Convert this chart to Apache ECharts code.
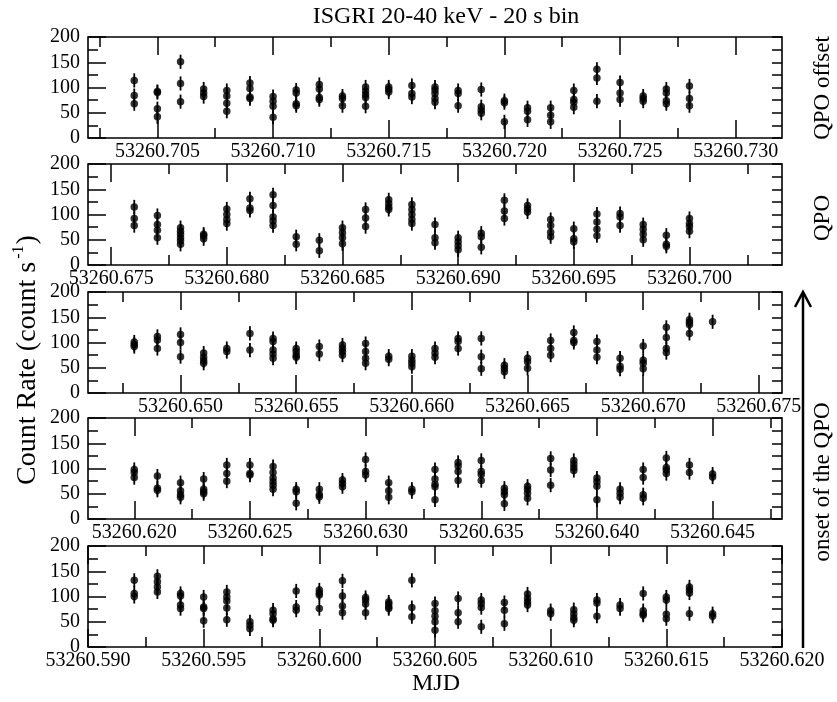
<!DOCTYPE html>
<html><head><meta charset="utf-8">
<script src="https://cdn.jsdelivr.net/npm/echarts@6/dist/echarts.min.js"></script>
<style>html,body{margin:0;padding:0;background:#fff}#c{width:837px;height:702px}</style>
</head><body><div id="c"></div>
<script>
// ---- Data (MJD times of each 20 s bin group, count rates in count/s) ----
const t1 = [53260.704,53260.705,53260.706,53260.707,53260.708,53260.709,53260.710,53260.711,53260.712,53260.713,53260.714,53260.715,53260.716,53260.717,53260.718,53260.719,53260.720,53260.721,53260.722,53260.723,53260.724,53260.725,53260.726,53260.727,53260.728];
const v1 = [[114,84,68],[92,90,58,42],[151,108,72],[97,89,82],[94,83,69,53],[109,98,81,78],[82,73,63,41],[95,89,68,64],[106,97,80,76],[83,78,64],[101,93,86,80,63],[101,96,91],[104,88,81],[101,95,88,78,71],[94,88,64],[96,62,55,49],[74,70,32],[60,53,36],[60,45,32],[94,76,71,61],[136,119,73],[110,89,76],[83,78,73],[97,89,74,68],[103,78,64]];

const t2 = [53260.676,53260.677,53260.678,53260.679,53260.680,53260.681,53260.682,53260.683,53260.684,53260.685,53260.686,53260.687,53260.688,53260.689,53260.690,53260.691,53260.692,53260.693,53260.694,53260.695,53260.696,53260.697,53260.698,53260.699,53260.700];
const v2 = [[115,92,78],[98,80,69,54],[74,67,61,54,48,41],[61,58,52],[111,100,90,82],[131,113,108],[139,118,95,87,78],[56,41],[49,28],[74,64,54,42],[110,93,76],[129,122,115,110],[120,110,100,90,82],[80,54,44],[54,46,38,30],[63,56,35],[128,107,92],[118,111,105],[90,78,65,56],[72,52,46],[101,85,71,58],[102,95,78],[80,71,61,50],[59,41,37],[92,82,76,67]];

const t3 = [53260.648,53260.649,53260.650,53260.651,53260.652,53260.653,53260.654,53260.655,53260.656,53260.657,53260.658,53260.659,53260.660,53260.661,53260.662,53260.663,53260.664,53260.665,53260.666,53260.667,53260.668,53260.669,53260.670,53260.671,53260.672,53260.673];
const v3 = [[101,96,92],[112,105,88],[116,100,72],[79,71,64,59],[88,82],[118,85],[108,102,85,77,69],[88,82,75,71],[92,77],[95,88,82,75],[98,82,69,59],[73,67],[73,65,59,52],[88,79,71],[108,102,88],[108,72,48],[55,49,42],[69,62,49],[104,88,75],[120,104,100],[102,85,71],[69,53,47],[93,65,59,48],[130,110,88,80],[145,140,135,118],[141]];

const t4 = [53260.620,53260.621,53260.622,53260.623,53260.624,53260.625,53260.626,53260.627,53260.628,53260.629,53260.630,53260.631,53260.632,53260.633,53260.634,53260.635,53260.636,53260.637,53260.638,53260.639,53260.640,53260.641,53260.642,53260.643,53260.644,53260.645];
const v4 = [[98,92,82],[85,61,57],[72,56,48,43],[79,59,54,50],[107,90,75],[107,90,87],[104,92,81,74,67,59],[59,54,31],[59,48,44],[77,71,64],[118,94,87],[72,56,43],[59,54],[98,79,69,64,38],[112,105,94,76],[116,94,88,76],[61,54,48,30],[65,59,51,41],[120,97,67],[116,109,102,96],[81,74,65,38],[59,51,43],[98,82,48,41],[121,102,97,90],[107,92],[89,83]];

const t5 = [53260.592,53260.593,53260.594,53260.595,53260.596,53260.597,53260.598,53260.599,53260.600,53260.601,53260.602,53260.603,53260.604,53260.605,53260.606,53260.607,53260.608,53260.609,53260.610,53260.611,53260.612,53260.613,53260.614,53260.615,53260.616,53260.617];
const v5 = [[132,106,100],[140,129,119,109],[106,101,83,76],[99,79,76,52],[109,99,91,77,54],[50,43,36],[73,66,56,53],[111,79,73],[113,107,103,76],[131,101,81,68],[98,93,85,68],[89,85,79,76],[132,78,60],[86,72,61,50,33],[96,68,50],[93,86,78,40],[88,73,46],[105,96,89,83],[72,66],[74,66,58,53],[93,87,61],[83,76],[106,72,66,63],[99,93,65,56],[119,113,107,66],[66,61]];

const ERR = 14; // half length of the error bars (count/s)

// axis ranges and tick labels
const xMin = [53260.702, 53260.674, 53260.646, 53260.618, 53260.590];
const xMax = [53260.732, 53260.704, 53260.676, 53260.648, 53260.620];
const xMajor1 = [53260.705,53260.710,53260.715,53260.720,53260.725,53260.730];
const xMajor2 = [53260.675,53260.680,53260.685,53260.690,53260.695,53260.700];
const xMajor3 = [53260.650,53260.655,53260.660,53260.665,53260.670,53260.675];
const xMajor4 = [53260.620,53260.625,53260.630,53260.635,53260.640,53260.645];
const xMajor5 = [53260.590,53260.595,53260.600,53260.605,53260.610,53260.615,53260.620];
const yTickValues = [0,50,100,150,200];

const titleText = 'ISGRI 20-40 keV - 20 s bin';
const xTitle = 'MJD';
const panelNames = ['QPO offset', 'QPO', '', '', ''];
const onsetText = 'onset of the QPO';

// ---- Chart ----
const FONT = '"Liberation Serif","Times New Roman",serif';
const times = [t1,t2,t3,t4,t5];
const vals = [v1,v2,v3,v4,v5];
const majors = [xMajor1,xMajor2,xMajor3,xMajor4,xMajor5];
const tops = [37,164,292,418,546];
const H = 101;

const chart = echarts.init(document.getElementById('c'), null, {renderer:'canvas'});
const grid=[], xAxis=[], yAxis=[], series=[];
const tickStyle = {color:'#000', width:1.5};

for (let i=0;i<5;i++){
  grid.push({left:88, width:694, top:tops[i], height:H, show:true, borderColor:'#000', borderWidth:1.6, backgroundColor:'transparent'});
  const mn = xMin[i], mx = xMax[i];
  const mj = majors[i];
  const mins = [];
  mj.forEach(v=>{[v-0.0025, v+0.0025].forEach(m=>{
    if (m>mn+1e-7 && m<mx-1e-7 && !mins.some(q=>Math.abs(q-m)<1e-7)) mins.push(m);
  });});
  const base = {type:'value', gridIndex:i, min:mn, max:mx, axisLine:{show:false}, splitLine:{show:false}};
  ['bottom','top'].forEach(pos=>{
    xAxis.push(Object.assign({}, base, {position:pos,
      axisTick:{show:true, inside:true, length:18, lineStyle:tickStyle, customValues:mj},
      axisLabel:{show:pos==='bottom', customValues:mj, formatter:v=>v.toFixed(3), fontFamily:FONT, fontSize:20, color:'#000', margin:4}
    }));
    xAxis.push(Object.assign({}, base, {position:pos,
      axisTick:{show:true, inside:true, length:10, lineStyle:tickStyle, customValues:mins},
      axisLabel:{show:false}
    }));
  });
  yAxis.push({type:'value', gridIndex:i, position:'left', min:0, max:200, interval:50,
    axisLine:{show:false}, splitLine:{show:false},
    axisTick:{show:true, inside:true, length:18, lineStyle:tickStyle},
    minorTick:{show:true, splitNumber:2, length:10, lineStyle:tickStyle},
    axisLabel:{fontFamily:FONT, fontSize:20, color:'#000', margin:8}
  });
  yAxis.push({type:'value', gridIndex:i, position:'right', min:0, max:200, interval:25,
    axisLine:{show:false}, splitLine:{show:false},
    axisTick:{show:true, inside:true, length:10, lineStyle:tickStyle},
    axisLabel:{show:false}
  });
  const pts = [];
  times[i].forEach((t,k)=>vals[i][k].forEach(v=>pts.push([t,v,ERR])));
  series.push({type:'custom', xAxisIndex:4*i, yAxisIndex:2*i, data:pts, silent:true, z:2,
    renderItem:(params, api)=>{
      const x = api.value(0), y = api.value(1), e = api.value(2);
      const a = api.coord([x, y+e]), b = api.coord([x, y-e]);
      return {type:'line', shape:{x1:a[0], y1:a[1], x2:b[0], y2:b[1]}, style:{stroke:'#000', lineWidth:1.8}};
    }});
  series.push({type:'scatter', xAxisIndex:4*i, yAxisIndex:2*i, data:pts.map(p=>[p[0],p[1]]),
    symbol:'circle', symbolSize:7.5, itemStyle:{color:'#000'}, z:3, silent:true});
}

const graphic = [
  {type:'text', style:{text:titleText, x:446, y:17, font:'24px '+FONT, fill:'#000', align:'center', verticalAlign:'middle'}},
  {type:'text', style:{text:xTitle, x:436, y:684, font:'24px '+FONT, fill:'#000', align:'center', verticalAlign:'middle'}},
  {type:'text', x:28, y:360, rotation:Math.PI/2, style:{text:'{a|Count Rate (count s}{b|-1}{a|)}', align:'center', verticalAlign:'middle',
     rich:{a:{fontFamily:FONT, fontSize:28, fill:'#000', lineHeight:34}, b:{fontFamily:FONT, fontSize:16, fill:'#000', verticalAlign:'top', lineHeight:34, padding:[0,1,0,3]}}}},
  {type:'text', x:823, y:88, rotation:Math.PI/2, style:{text:panelNames[0], font:'23px '+FONT, fill:'#000', align:'center', verticalAlign:'middle'}},
  {type:'text', x:823, y:218, rotation:Math.PI/2, style:{text:panelNames[1], font:'23px '+FONT, fill:'#000', align:'center', verticalAlign:'middle'}},
  {type:'text', x:823, y:482, rotation:Math.PI/2, style:{text:onsetText, font:'23px '+FONT, fill:'#000', align:'center', verticalAlign:'middle'}},
  {type:'line', shape:{x1:803, y1:648, x2:803, y2:293}, style:{stroke:'#000', lineWidth:2.5}},
  {type:'polyline', shape:{points:[[795,307],[803,292],[811,307]]}, style:{stroke:'#000', lineWidth:2.5, fill:null}}
];

chart.setOption({animation:false, backgroundColor:'#fff', grid, xAxis, yAxis, series, graphic});
</script></body></html>
